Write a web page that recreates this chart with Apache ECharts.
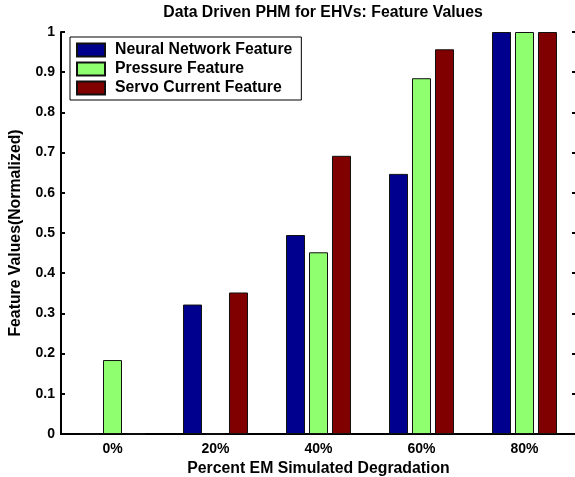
<!DOCTYPE html>
<html>
<head>
<meta charset="utf-8">
<script src="https://cdn.jsdelivr.net/npm/echarts@6/dist/echarts.min.js"></script>
<style>
html,body{margin:0;padding:0;background:#fff;}
#chart{width:575px;height:477px;}
</style>
</head>
<body>
<div id="chart"></div>
<script>
const categories = ['0%', '20%', '40%', '60%', '80%'];
const neuralNetwork = [0, 0.322, 0.495, 0.647, 1.0];
const pressure = [0.184, 0, 0.452, 0.885, 1.0];
const servoCurrent = [0, 0.352, 0.692, 0.957, 1.0];
const seriesNames = ['Neural Network Feature', 'Pressure Feature', 'Servo Current Feature'];
const seriesColors = ['#00008F', '#8FFF70', '#800000'];

const FONT = '"Liberation Sans", Arial, sans-serif';
const chart = echarts.init(document.getElementById('chart'), null, {renderer: 'canvas'});

const axisLineStyle = {color: '#000', width: 2};
const tickStyle = {color: '#000', width: 2};

function barSeries(name, values, color) {
  return {
    name: name,
    type: 'bar',
    data: values,
    barWidth: 19,
    barGap: '21%',
    itemStyle: {color: color, borderColor: '#111', borderWidth: 1},
    emphasis: {disabled: true},
    animation: false
  };
}

const option = {
  animation: false,
  backgroundColor: '#fff',
  title: {
    text: 'Data Driven PHM for EHVs: Feature Values',
    left: 318,
    textAlign: 'center',
    top: 0,
    textStyle: {fontFamily: FONT, fontWeight: 'bold', fontSize: 15.8, color: '#000'}
  },
  legend: {
    orient: 'vertical',
    left: 70,
    top: 37,
    padding: [5, 9, 4, 6],
    itemWidth: 28,
    itemHeight: 13,
    itemGap: 3,
    borderColor: '#000',
    borderWidth: 1,
    backgroundColor: '#fff',
    icon: 'rect',
    textStyle: {fontFamily: FONT, fontWeight: 'bold', fontSize: 15.8, color: '#000', padding: [0, 0, 0, 5]},
    data: seriesNames
  },
  grid: {left: 61, right: -1, top: 32, bottom: 43, containLabel: false, outerBoundsMode: 'none'},
  xAxis: [
    {
      type: 'category',
      data: categories,
      position: 'bottom',
      axisLine: {lineStyle: axisLineStyle},
      axisTick: {inside: true, alignWithLabel: true, length: 4, lineStyle: tickStyle},
      axisLabel: {fontFamily: FONT, fontWeight: 'bold', fontSize: 14, color: '#000', margin: 8},
      name: 'Percent EM Simulated Degradation',
      nameLocation: 'middle',
      nameGap: 25,
      nameTextStyle: {fontFamily: FONT, fontWeight: 'bold', fontSize: 15.8, color: '#000'}
    },
    {
      type: 'category',
      data: categories,
      position: 'top',
      axisLine: {lineStyle: axisLineStyle},
      axisTick: {inside: true, alignWithLabel: true, length: 4, lineStyle: tickStyle},
      axisLabel: {show: false}
    }
  ],
  yAxis: [
    {
      type: 'value',
      min: 0,
      max: 1,
      interval: 0.1,
      position: 'left',
      splitLine: {show: false},
      axisLine: {show: true, lineStyle: axisLineStyle},
      axisTick: {show: true, inside: true, length: 4, lineStyle: tickStyle},
      axisLabel: {fontFamily: FONT, fontWeight: 'bold', fontSize: 14, color: '#000', margin: 6},
      name: 'Feature Values(Normalized)',
      nameLocation: 'middle',
      nameGap: 37,
      nameTextStyle: {fontFamily: FONT, fontWeight: 'bold', fontSize: 15.8, color: '#000'}
    },
    {
      type: 'value',
      min: 0,
      max: 1,
      interval: 0.1,
      position: 'right',
      splitLine: {show: false},
      axisLine: {show: true, lineStyle: axisLineStyle},
      axisTick: {show: true, inside: true, length: 4, lineStyle: tickStyle},
      axisLabel: {show: false}
    }
  ],
  series: [
    barSeries(seriesNames[0], neuralNetwork, seriesColors[0]),
    barSeries(seriesNames[1], pressure, seriesColors[1]),
    barSeries(seriesNames[2], servoCurrent, seriesColors[2])
  ]
};
chart.setOption(option);
</script>
</body>
</html>
